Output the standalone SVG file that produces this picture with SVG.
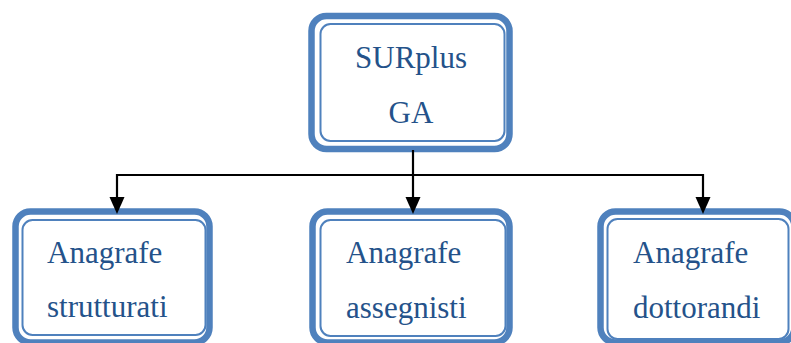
<svg xmlns="http://www.w3.org/2000/svg" width="791" height="343" viewBox="0 0 791 343">
<defs>
<style>
.outer{fill:#fff;stroke:#4F81BD;stroke-width:6.5}
.inner{fill:none;stroke:#4F81BD;stroke-width:2}
.t{font-family:"Liberation Serif","Times New Roman",serif;font-size:31px;fill:#24528A}
.c{fill:none;stroke:#000;stroke-width:2.2}
.ah{fill:#000}
</style>
</defs>
<rect width="791" height="343" fill="#fff"/>
<g id="surplus">
<rect class="outer" x="311.5" y="16" width="198" height="133" rx="15"/>
<rect class="inner" x="320.5" y="24" width="184" height="117" rx="10"/>
<text class="t" x="411" y="68" text-anchor="middle">SURplus</text>
<text class="t" x="411" y="123" text-anchor="middle">GA</text>
</g>
<g id="strutturati">
<rect class="outer" x="15.5" y="211.5" width="194" height="131" rx="15"/>
<rect class="inner" x="22.5" y="220" width="183" height="115" rx="10"/>
<text class="t" x="47" y="263">Anagrafe</text>
<text class="t" x="47" y="317">strutturati</text>
</g>
<g id="assegnisti">
<rect class="outer" x="312.5" y="211.5" width="197" height="131" rx="15"/>
<rect class="inner" x="320.5" y="220" width="185" height="116" rx="10"/>
<text class="t" x="346" y="263">Anagrafe</text>
<text class="t" x="346" y="318">assegnisti</text>
</g>
<g id="dottorandi">
<rect class="outer" x="600.5" y="211.5" width="194" height="131" rx="15"/>
<rect class="inner" x="607.5" y="219" width="181" height="120" rx="10"/>
<text class="t" x="633" y="263">Anagrafe</text>
<text class="t" x="633" y="318">dottorandi</text>
</g>
<g id="connectors">
<path class="c" d="M413,150 V199"/>
<path class="c" d="M117,175 H703"/>
<path class="c" d="M117,174 V199"/>
<path class="c" d="M703,174 V199"/>
<polygon class="ah" points="405.5,197 420.5,197 413,214"/>
<polygon class="ah" points="109.5,197 124.5,197 117,214"/>
<polygon class="ah" points="695.5,197 710.5,197 703,214"/>
</g>
</svg>
